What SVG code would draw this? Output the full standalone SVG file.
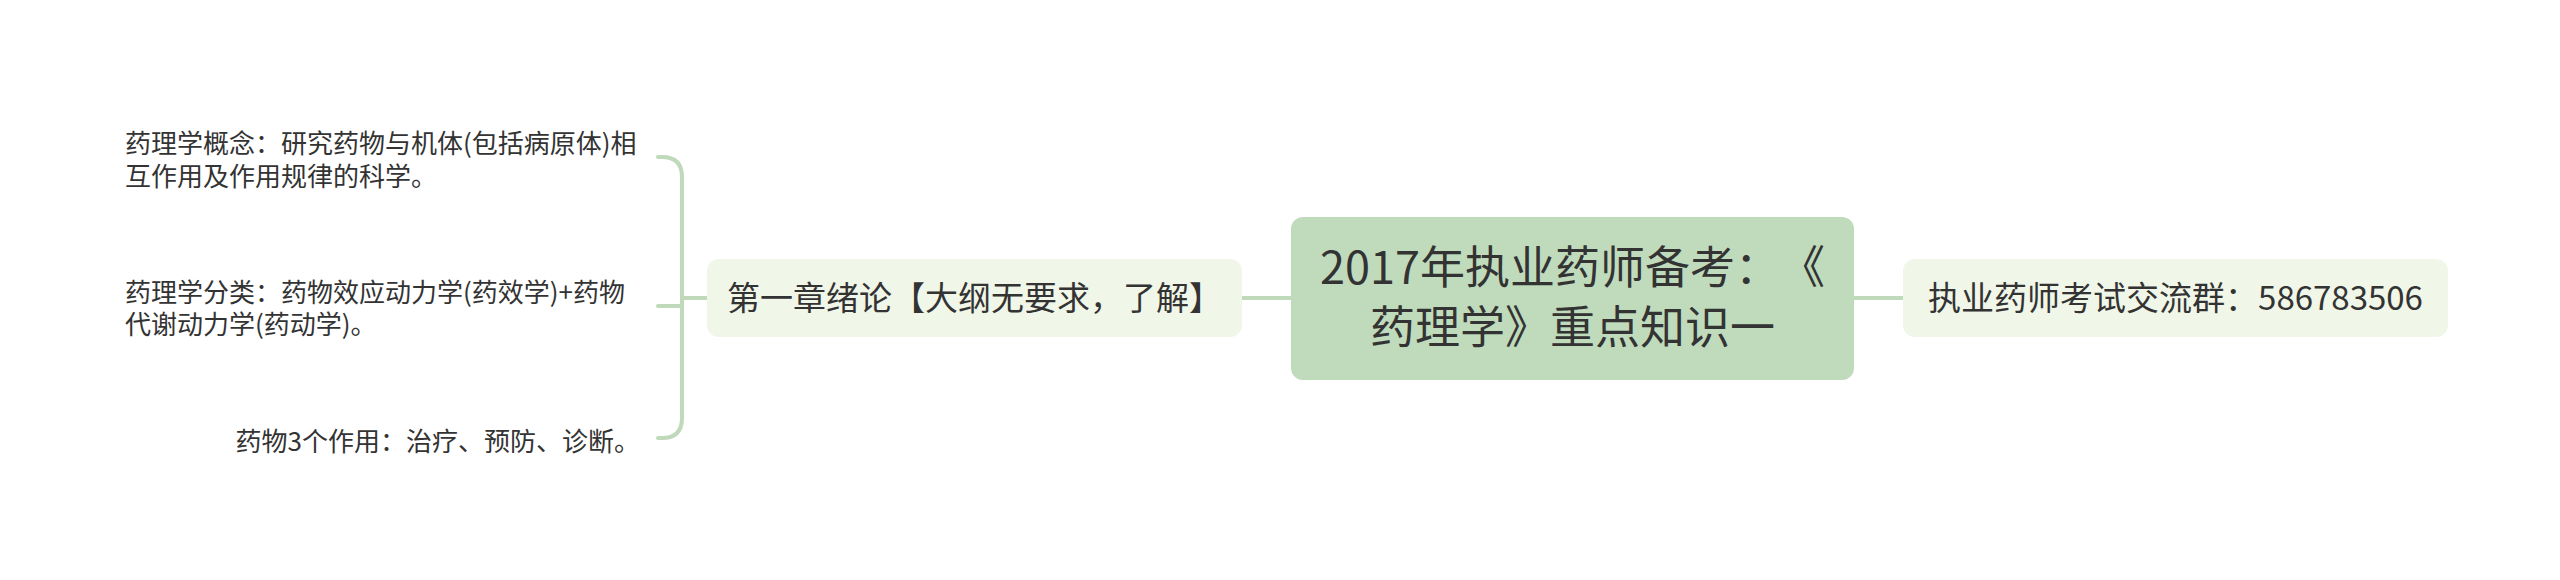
<svg xmlns="http://www.w3.org/2000/svg" width="2560" height="580" viewBox="0 0 2560 580">
<style>
text{font-family:"Noto Sans CJK SC","Noto Sans",sans-serif;fill:#333333;text-spacing-trim:space-all;font-kerning:none}
.conn{fill:none;stroke:#bfd9ba;stroke-width:4;stroke-linecap:round}
.root{fill:#c0dbbc}
.sub{fill:#f0f6e8}
.t-root{font-size:45px}
.t-sub{font-size:33px}
.t-leaf{font-size:26px}
</style>
<rect width="2560" height="580" fill="#ffffff"/>
<g id="connectors">
<path class="conn" d="M1242 298 H1291"/>
<path class="conn" d="M1854 298 H1903"/>
<path class="conn" d="M707 298 H682"/>
<path class="conn" d="M658 157 H662 Q682 157 682 177 V418 Q682 438 662 438 H658"/>
<path class="conn" d="M682 306 H658"/>
</g>
<g id="root">
<rect class="root" x="1291" y="217" width="563" height="163" rx="12"/>
<text class="t-root" x="1572.5" y="284" text-anchor="middle">2017年执业药师备考：《</text>
<text class="t-root" x="1572.5" y="344" text-anchor="middle">药理学》重点知识一</text>
</g>
<g id="chapter1">
<rect class="sub" x="707" y="259" width="535" height="78" rx="12"/>
<text class="t-sub" x="974.5" y="310" text-anchor="middle">第一章绪论【大纲无要求，了解】</text>
</g>
<g id="qqgroup">
<rect class="sub" x="1903" y="259" width="545" height="78" rx="12"/>
<text class="t-sub" x="2175.5" y="310" text-anchor="middle">执业药师考试交流群：586783506</text>
</g>
<g id="leaf1">
<text class="t-leaf" x="125" y="153">药理学概念：研究药物与机体(包括病原体)相</text>
<text class="t-leaf" x="125" y="186">互作用及作用规律的科学。</text>
</g>
<g id="leaf2">
<text class="t-leaf" x="125" y="302">药理学分类：药物效应动力学(药效学)+药物</text>
<text class="t-leaf" x="125" y="334">代谢动力学(药动学)。</text>
</g>
<g id="leaf3">
<text class="t-leaf" x="640" y="451" text-anchor="end">药物3个作用：治疗、预防、诊断。</text>
</g>
</svg>
